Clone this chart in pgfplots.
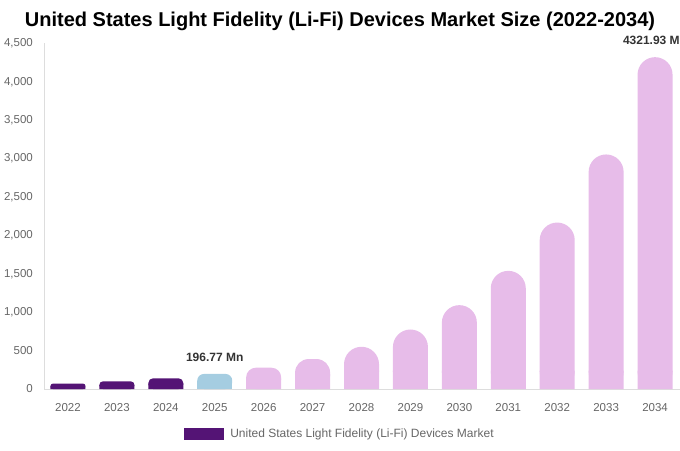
\documentclass[border=0pt]{standalone}
\usepackage{pgfplots}
\pgfplotsset{compat=1.18}
\usepackage{fontspec}
\setmainfont{Liberation Sans}
\definecolor{dpurple}{RGB}{84,20,117}
\definecolor{lblue}{RGB}{165,205,225}
\definecolor{lpink}{RGB}{231,188,233}
\definecolor{tickgray}{RGB}{102,102,102}
\definecolor{axgray}{RGB}{221,221,221}
\definecolor{lblgray}{RGB}{51,51,51}
\begin{document}
\begin{tikzpicture}[x=1pt,y=1pt]
\useasboundingbox (0,0) rectangle (680,450);
\node[font=\fontsize{20}{24}\selectfont\bfseries] at (340,429) {United States Light Fidelity (Li-Fi) Devices Market Size (2022-2034)};
\begin{axis}[
  at={(44pt,61pt)}, anchor=south west,
  scale only axis, width=636pt, height=345.5pt,
  xmin=-0.49, xmax=12.51, ymin=0, ymax=4500,
  ytick={0,500,1000,1500,2000,2500,3000,3500,4000,4500},
  xtick={0,1,2,3,4,5,6,7,8,9,10,11,12},
  xticklabels={2022,2023,2024,2025,2026,2027,2028,2029,2030,2031,2032,2033,2034},
  axis x line*=bottom, axis y line*=left,
  x axis line style={-, draw=axgray},
  y axis line style={-, draw=axgray},
  major tick length=0pt, tick style={draw=none},
  /pgf/number format/.cd, 1000 sep={,}, assume math mode=true, /pgfplots/.cd,
  yticklabel style={font=\fontsize{11.5}{12}\selectfont, text=tickgray, inner sep=0pt, xshift=-11pt},
  xticklabel style={font=\fontsize{11.5}{12}\selectfont, text=tickgray, inner sep=0pt, yshift=-14pt},
  ybar, bar width=35pt, bar shift=0pt,
  legend style={at={(0.4654,-0.1288)}, anchor=center, draw=none, fill=none,
    font=\fontsize{12}{14}\selectfont, text=tickgray,
    /tikz/every odd column/.append style={column sep=4pt}},
  legend image code/.code={\fill[dpurple, sharp corners] (0pt,-6pt) rectangle (40pt,6pt);},
  nodes near coords style={font=\fontsize{12}{14}\selectfont\bfseries, text=lblgray, inner sep=0pt, yshift=12pt},
]
% rounded tops (radius limited by bar height)
\addplot[fill=dpurple, draw=none, rounded corners=2.4pt] coordinates {(0,70)};
\addlegendentry{United States Light Fidelity (Li-Fi) Devices Market}
\addplot[fill=dpurple, draw=none, rounded corners=3.4pt, forget plot] coordinates {(1,99)};
\addplot[fill=dpurple, draw=none, rounded corners=4.8pt, forget plot] coordinates {(2,140)};
\addplot[fill=lblue, draw=none, rounded corners=6.8pt, forget plot,
  nodes near coords, point meta=explicit symbolic] coordinates {(3,196.77) [196.77 Mn]};
\addplot[fill=lpink, draw=none, rounded corners=9.6pt, forget plot] coordinates {(4,277)};
\addplot[fill=lpink, draw=none, rounded corners=13.5pt, forget plot] coordinates {(5,390)};
\addplot[fill=lpink, draw=none, rounded corners=17.5pt, forget plot,
  nodes near coords, point meta=explicit symbolic] coordinates {
  (6,550) [] (7,775) [] (8,1092) [] (9,1539) []
  (10,2168) [] (11,3055) [] (12,4321.93) [4321.93 Mn]};
% square bottoms
\addplot[fill=dpurple, draw=none, forget plot] coordinates {(0,35) (1,49.5) (2,70)};
\addplot[fill=lblue, draw=none, forget plot] coordinates {(3,98.4)};
\addplot[fill=lpink, draw=none, forget plot] coordinates {
  (4,138.5) (5,195) (6,240) (7,240) (8,240) (9,240) (10,240) (11,240) (12,240)};
\end{axis}
\end{tikzpicture}
\end{document}
